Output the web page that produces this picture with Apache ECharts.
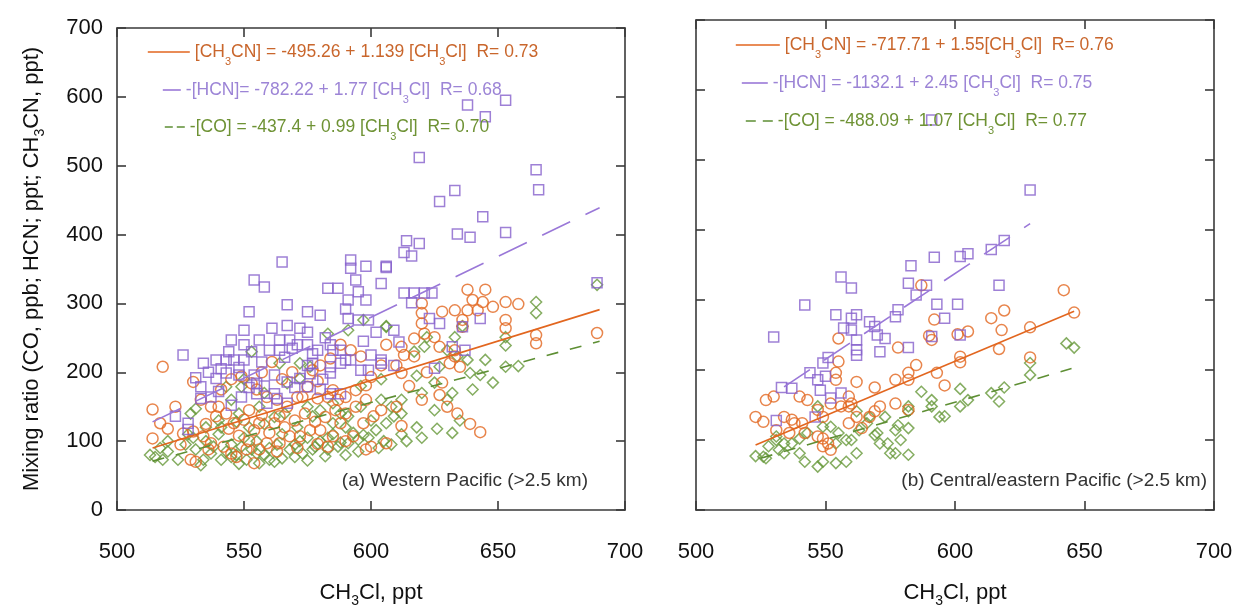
<!DOCTYPE html>
<html><head><meta charset="utf-8">
<script src="https://cdn.jsdelivr.net/npm/echarts@6/dist/echarts.min.js"></script>
<style>html,body{margin:0;padding:0;background:#fff}#c{width:1241px;height:616px}</style>
</head><body><div id="c"></div><script>
// ---- data ----
const xRange = [500, 700];
const yRange = [0, 700];
const xStep = 50, yStep = 100;

const westHCN = [[638,588],[653,595],[645,571],[619,512],[665,494],[666,465],[627,448],[633,464],[644,426],[634,401],[639,396],[653,403],[614,391],[619,387],[613,374],[616,369],[606,352],[604,329],[689,330],[613,315],[617,315],[621,315],[624,315],[616,301],[623,278],[627,271],[643,278],[636,266],[609,261],[611,244],[632,237],[637,232],[604,218],[609,210],[625,206],
[565,360],[592,363],[592,351],[598,354],[606,354],[554,334],[558,324],[583,322],[587,322],[594,334],[595,317],[591,305],[598,305],[552,288],[567,298],[575,288],[580,283],[590,292],[591,278],[595,276],[599,276],[550,261],[561,264],[567,268],[572,264],[575,258],[602,258],
[545,247],[550,240],[556,247],[560,232],[564,232],[564,247],[568,247],[571,240],[575,240],[577,227],[579,232],[584,240],[585,232],[588,232],[590,218],
[526,225],[534,213],[539,218],[543,218],[546,218],[550,218],
[539,191],[533,179],[543,199],[548,196],[554,196],[555,184],[562,196],[567,186],[572,191],[575,210],[577,213],[584,208],[584,199],[588,213],[592,218],[596,203],[599,203],[604,213],
[533,162],[537,164],[523,136],[528,126],[528,117],[549,164],[555,169],[562,169],[567,155],[559,155],[584,169],[588,169],[575,179],[580,175],
[540,172],[545,152],[558,180],[563,162],[570,178],[541,205],[531,192],[576,198],[581,190],[548,207],[553,230],[566,222],
[536,200],[544,230],[557,215],[569,235],[582,250],[597,245],[600,225],[552,178]];

const westCH3CN = [[638,320],[645,320],[640,305],[644,302],[648,295],[653,302],[658,299],[638,290],[642,290],[628,288],[633,290],[620,300],[620,286],[653,276],[636,276],[636,266],[653,264],[665,254],[665,242],[689,257],[620,271],[621,256],[617,249],[625,251],[627,237],[633,232],[633,223],[631,213],[635,208],[606,240],[612,237],[613,225],[617,223],
[518,208],[514,146],[517,126],[514,104],[523,150],[530,186],[529,73],[531,70],[554,68],[606,97],[600,92],[598,88],[583,92],[587,160],[590,164],[594,174],[598,181],[600,193],[604,210],[610,210],[612,199],[588,240],[592,232],[596,223],
[549,194],[553,184],[555,175],[559,164],[563,160],[567,150],[571,164],[533,160],[537,150],[539,136],[543,140],[546,126],[550,131],[554,116],[556,126],[562,126],[564,136],
[526,111],[530,114],[534,107],[537,97],[542,92],[545,82],[547,77],[551,88],[556,88],[559,97],[564,97],[568,107],[572,107],[576,116],[580,116],[585,107],[588,126],[593,107],[597,126],[601,136],[604,145],[610,150],
[577,203],[579,187],[575,179],[573,164],[579,162],[583,164],[585,174],
[620,160],[627,167],[630,150],[639,125],[643,113],[615,180],[622,200],[628,185],[612,122],[634,140],
[535,125],[540,150],[544,118],[548,108],[552,145],[557,138],[560,112],[566,120],[570,130],[574,140],[578,128],[582,135],[586,145],[590,140],[594,150],[598,160],[541,175],[545,190],[557,200],[561,215],[565,190],[569,200],[580,210],[584,220],[552,100],[563,85],[571,90],[579,96],[590,100],[536,88],[525,95],[520,118]];

const westCO = [[665,302],[665,286],[689,327],[636,267],[653,251],[653,239],[606,267],[622,251],[621,237],[617,230],[634,223],[638,218],[645,218],[653,208],[658,209],[627,208],[639,199],[643,196],[633,251],[630,232],
[515,77],[518,73],[524,73],[531,88],[534,73],[537,82],[541,73],[545,77],[547,80],[551,73],[555,82],[560,73],[565,75],[570,77],[573,82],[577,88],[583,88],[587,92],[591,97],[595,102],[597,109],[602,116],[606,126],[609,136],[608,150],[553,230],[583,256],[591,261],[597,276],[606,266],[564,213],[572,213],[576,208],[543,179],[549,179],[567,184],[572,191],[529,140],[531,147],[577,136],[585,126],[591,136],
[513,80],[520,85],[527,95],[535,100],[540,110],[545,95],[550,105],[555,100],[560,90],[565,110],[570,95],[575,105],[580,100],[585,110],[590,120],[595,85],[600,130],[605,100],[612,110],[618,120],[625,145],[630,160],[635,130],[640,175],[648,185],[620,170],[612,160],[540,130],[548,140],[556,150],[562,135],[575,150],[585,155],[552,120],[545,160],[535,120],[528,110],[520,100],[517,90],
[533,65],[548,67],[556,68],[562,70],[575,72],[582,78],[590,80],
[530,105],[538,92],[543,85],[549,92],[553,88],[558,80],[563,95],[568,88],[572,100],[578,92],[583,105],[588,98],[593,112],[599,105],[603,90],[608,95],[614,100],[620,105],[626,118],[632,112],[541,120],[547,128],[558,125],[566,140],[571,120],[580,145],[588,140],[596,150],[604,160],[612,140],[550,190],[558,170],[596,180],[604,190],[618,195],[625,185],[632,170]];

const eastHCN = [[629,457],[619,385],[614,372],[605,366],[602,362],[592,361],[583,349],[556,333],[560,317],[617,321],[582,324],[589,321],[585,307],[542,293],[593,294],[601,294],[596,274],[554,279],[560,274],[562,279],[578,286],[577,276],[557,260],[560,257],[567,269],[569,262],[570,250],[573,245],[562,243],[562,229],[562,221],[571,226],[582,232],[530,247],[551,218],[549,210],[544,196],[550,191],[547,186],[548,171],[533,175],[537,174],[552,160],[546,133],[531,128],[556,167],[602,250],[591,248],[591,557]];

const eastCH3CN = [[642,314],[646,282],[619,285],[614,274],[618,257],[617,230],[629,261],[629,218],[587,321],[592,272],[590,249],[591,243],[601,251],[605,255],[596,178],[593,196],[602,219],[602,211],[578,232],[585,207],[582,196],[577,186],[582,186],[577,152],[571,148],[582,143],[569,141],[567,133],[564,117],[562,133],[559,124],[569,175],[562,183],[555,245],[555,212],[554,196],[554,186],[559,162],[560,152],[556,148],[540,162],[543,157],[547,143],[549,133],[552,152],[559,148],[537,129],[541,124],[538,124],[534,133],[530,162],[527,157],[523,133],[526,126],[531,114],[536,110],[542,110],[547,105],[549,102],[551,95],[552,86],[549,91]];

const eastCO = [[643,238],[646,232],[629,210],[629,193],[617,155],[614,167],[619,175],[602,173],[602,148],[605,157],[594,133],[596,134],[591,157],[591,148],[587,169],[582,148],[582,141],[582,117],[578,121],[579,100],[577,81],[582,79],[574,95],[562,141],[563,114],[566,124],[569,107],[571,95],[575,81],[570,110],[577,114],[573,133],[567,133],[547,148],[549,119],[552,119],[555,110],[558,100],[554,95],[560,100],[562,81],[558,69],[554,67],[549,69],[547,62],[542,69],[540,81],[537,95],[540,102],[543,110],[531,105],[532,86],[534,81],[528,91],[523,77],[527,74],[526,76],[534,95],[531,100]];

// regression line end points (as drawn)
const westFitCH3CN = [[514,90],[690,291]];
const westFitHCN = [[514,128],[690,439]];
const westFitCO = [[514,71],[690,245]];
const eastFitCH3CN = [[523,93],[646,284]];
const eastFitHCN = [[534,176],[629,409]];
const eastFitCO = [[525,74],[645,202]];

const westEq = ['[CH3CN] = -495.26 + 1.139 [CH3Cl]  R= 0.73', '-[HCN]= -782.22 + 1.77 [CH3Cl]  R= 0.68', '-[CO] = -437.4 + 0.99 [CH3Cl]  R= 0.70'];
const eastEq = ['[CH3CN] = -717.71 + 1.55[CH3Cl]  R= 0.76', '-[HCN] = -1132.1 + 2.45 [CH3Cl]  R= 0.75', '-[CO] = -488.09 + 1.07 [CH3Cl]  R= 0.77'];
const panelLabels = ['(a) Western Pacific (>2.5 km)', '(b) Central/eastern Pacific (>2.5 km)'];
const xTitle = 'CH3Cl, ppt';
const yTitle = 'Mixing ratio (CO, ppb; HCN; ppt; CH3CN, ppt)';

// ---- styling ----
const FONT = '"Liberation Sans", Arial, sans-serif';
const C_OR = '#e2661f', C_PU = '#8660cc', C_GR = '#66993a';
const T_OR = '#c9662c', T_PU = '#9c84d6', T_GR = '#6e9234';
const AX = '#3a3a3a';
const sub = s => s.replace(/CH3/g, 'CH{s|3}');

function axisBase(extra) {
  return Object.assign({
    type: 'value', splitLine: {show: false},
    axisLine: {show: true, onZero: false, lineStyle: {color: AX, width: 1.6}},
    axisTick: {show: true, inside: true, length: 9, lineStyle: {color: AX, width: 1.6}},
    axisLabel: {show: false}
  }, extra);
}
const xLab = {show: true, fontSize: 22, color: '#111', fontFamily: FONT, margin: 31};
const yLab = {show: true, fontSize: 22, color: '#111', fontFamily: FONT, margin: 14, padding: [0, 0, 8, 0]};

const xAxes = [], yAxes = [];
[0, 1].forEach(g => {
  xAxes.push(axisBase({gridIndex: g, min: xRange[0], max: xRange[1], interval: xStep, position: 'bottom',
    axisLabel: xLab, name: sub(xTitle), nameLocation: 'middle', nameGap: 68,
    nameTextStyle: {fontSize: 22, color: '#111', fontFamily: FONT, lineHeight: 30,
      rich: {s: {fontSize: 14, lineHeight: 12, verticalAlign: 'bottom', color: '#111', fontFamily: FONT}}}}));
  xAxes.push(axisBase({gridIndex: g, min: xRange[0], max: xRange[1], interval: xStep, position: 'top'}));
  const yl = axisBase({gridIndex: g, min: yRange[0], max: yRange[1], interval: yStep, position: 'left'});
  if (g === 0) {
    yl.axisLabel = yLab;
    yl.name = sub(yTitle); yl.nameLocation = 'middle'; yl.nameGap = 70; yl.nameRotate = 90;
    yl.nameTextStyle = {fontSize: 22, color: '#111', fontFamily: FONT, lineHeight: 30,
      rich: {s: {fontSize: 14, lineHeight: 12, verticalAlign: 'bottom', color: '#111', fontFamily: FONT}}};
  }
  yAxes.push(yl);
  yAxes.push(axisBase({gridIndex: g, min: yRange[0], max: yRange[1], interval: yStep, position: 'right'}));
});

function scatter(name, g, data, symbol, size, color) {
  return {name, type: 'scatter', xAxisIndex: g * 2, yAxisIndex: g * 2, data, symbol, symbolSize: size,
    itemStyle: {color: 'rgba(0,0,0,0)', borderColor: color, borderWidth: 1.5}, z: 2};
}
function fit(name, g, data, color, type) {
  return {name, type: 'line', xAxisIndex: g * 2, yAxisIndex: g * 2, data, symbol: 'none',
    lineStyle: {color, width: 1.6, type}, z: 5};
}
function leg(name, left, top, w, color, dash) {
  return {data: [name], left, top, orient: 'vertical', padding: 0, itemWidth: w, itemHeight: 14,
    selectedMode: false, itemStyle: {opacity: 0},
    lineStyle: {type: dash, width: 1.6},
    formatter: n => sub(n),
    textStyle: {color, fontSize: 17.5, fontFamily: FONT, lineHeight: 30,
      rich: {s: {fontSize: 11, lineHeight: 10, verticalAlign: 'bottom', color, fontFamily: FONT}}}};
}

const option = {
  animation: false,
  backgroundColor: '#fff',
  grid: [
    {left: 117, top: 28, width: 508, height: 482},
    {left: 696, top: 20, width: 518, height: 490}
  ],
  xAxis: xAxes,
  yAxis: yAxes,
  legend: [
    leg(westEq[0], 147, 37, 42, T_OR, 'solid'),
    leg(westEq[1], 162, 75, 18, T_PU, 'solid'),
    leg(westEq[2], 164, 112, 20, T_GR, [8, 4]),
    leg(eastEq[0], 735, 30, 44, T_OR, 'solid'),
    leg(eastEq[1], 741, 68, 26, T_PU, 'solid'),
    leg(eastEq[2], 745, 106, 27, T_GR, [10, 7])
  ],
  graphic: [
    {type: 'text', x: 588, y: 481, style: {text: panelLabels[0], align: 'right', verticalAlign: 'middle', fontSize: 19, fill: '#333', fontFamily: FONT}},
    {type: 'text', x: 1207, y: 481, style: {text: panelLabels[1], align: 'right', verticalAlign: 'middle', fontSize: 19, fill: '#333', fontFamily: FONT}}
  ],
  series: [
    scatter('CO (a)', 0, westCO, 'diamond', 11, C_GR),
    scatter('CH3CN (a)', 0, westCH3CN, 'circle', 11, C_OR),
    scatter('HCN (a)', 0, westHCN, 'rect', 10, C_PU),
    fit(westEq[0], 0, westFitCH3CN, C_OR, 'solid'),
    fit(westEq[1], 0, westFitHCN, '#9a78d8', [31, 17]),
    fit(westEq[2], 0, westFitCO, '#5e8f34', [12, 12]),
    scatter('CO (b)', 1, eastCO, 'diamond', 11, C_GR),
    scatter('CH3CN (b)', 1, eastCH3CN, 'circle', 11, C_OR),
    scatter('HCN (b)', 1, eastHCN, 'rect', 10, C_PU),
    fit(eastEq[0], 1, eastFitCH3CN, C_OR, 'solid'),
    fit(eastEq[1], 1, eastFitHCN, '#9a78d8', [31, 17]),
    fit(eastEq[2], 1, eastFitCO, '#5e8f34', [12, 12])
  ]
};
const chart = echarts.init(document.getElementById('c'), null, {renderer: 'canvas'});
chart.setOption(option);
</script></body></html>
